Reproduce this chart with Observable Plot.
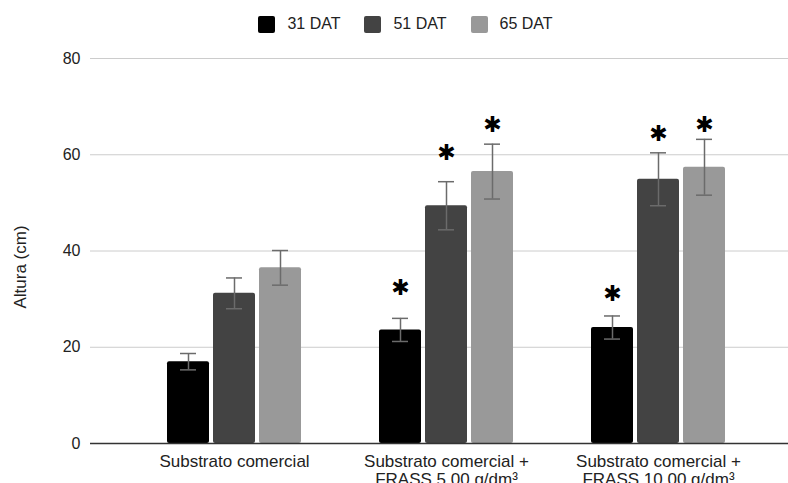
<!DOCTYPE html>
<html>
<head>
<meta charset="utf-8">
<script src="https://cdn.jsdelivr.net/npm/d3@7"></script>
<script src="https://cdn.jsdelivr.net/npm/@observablehq/plot@0.6"></script>
<style>
  html, body { margin: 0; padding: 0; background: #fff; overflow: hidden; }
  body { font-family: 'Liberation Sans', Arial, Helvetica, sans-serif; color: #222; }
  #legend { height: 48px; display: flex; justify-content: center; align-items: center; padding-left: 23px; box-sizing: border-box; width: 788px; font-size: 16px; }
  .item { display: flex; align-items: center; margin: 0 12px; }
  .sw { width: 17px; height: 17px; border-radius: 2px; margin-right: 12px; }
  #chart { position: relative; width: 788px; height: 435px; }
  #chart svg { position: absolute; left: 0; top: 0; }
</style>
</head>
<body>
<div id="legend"></div>
<div id="chart"></div>
<script>
const groups = [
  "Substrato comercial",
  "Substrato comercial +\nFRASS 5.00 g/dm³",
  "Substrato comercial +\nFRASS 10.00 g/dm³"
];
const series = ["31 DAT", "51 DAT", "65 DAT"];
const colors = ["#000000", "#434343", "#999999"];

// mean height (cm) per series, one value per group
const mean31 = [17.0, 23.6, 24.1];
const mean51 = [31.2, 49.4, 54.9];
const mean65 = [36.5, 56.5, 57.4];
// error (± cm)
const err31 = [1.7, 2.4, 2.4];
const err51 = [3.2, 5.0, 5.5];
const err65 = [3.6, 5.7, 5.8];
// asterisk (significance) positions in cm, null = none
const star31 = [null, 32.4, 31.0];
const star51 = [null, 60.3, 64.4];
const star65 = [null, 66.1, 66.1];

const yTicks = [0, 20, 40, 60, 80];

const means = [mean31, mean51, mean65];
const errs = [err31, err51, err65];
const stars = [star31, star51, star65];

const rows = [];
groups.forEach((g, i) => {
  series.forEach((s, j) => {
    rows.push({group: g, series: s, value: means[j][i], err: errs[j][i], star: stars[j][i]});
  });
});

// legend
const legend = document.getElementById("legend");
series.forEach((s, j) => {
  const it = document.createElement("div");
  it.className = "item";
  const sw = document.createElement("span");
  sw.className = "sw";
  sw.style.background = colors[j];
  const lb = document.createElement("span");
  lb.textContent = s;
  it.appendChild(sw);
  it.appendChild(lb);
  legend.appendChild(it);
});

const font = "'Liberation Sans', Arial, Helvetica, sans-serif";
const common = {
  width: 788,
  height: 435,
  marginTop: 10,
  marginBottom: 40,
  marginLeft: 90,
  marginRight: 0,
  y: {domain: [0, 80], axis: null}
};

// background layer: grid, y axis
const back = Plot.plot({
  ...common,
  style: {fontFamily: font, fontSize: "16px", color: "#222", background: "white", overflow: "visible"},
  marks: [
    Plot.ruleY(yTicks.filter(d => d > 0), {stroke: "#cccccc", strokeWidth: 1}),
    Plot.text(yTicks, {y: d => d, text: d => String(d), frameAnchor: "left", dx: -10, textAnchor: "end", fill: "#222"}),
    Plot.text(["Altura (cm)"], {text: d => d, frameAnchor: "left", dx: -70, dy: 16, rotate: -90, textAnchor: "middle", lineAnchor: "middle", fontSize: 17, fill: "#222"})
  ]
});

// front layer: grouped bars, error bars, asterisks, category axis
const front = Plot.plot({
  ...common,
  style: {fontFamily: font, fontSize: "16px", color: "#222", background: "transparent", overflow: "visible"},
  fx: {domain: groups, paddingInner: 0.358, paddingOuter: 0.325, align: 0.551, label: null, axis: null},
  x: {domain: series, paddingInner: 0.085, paddingOuter: 0, axis: null},
  color: {domain: series, range: colors},
  marks: [
    Plot.barY(rows, {fx: "group", x: "series", y: "value", fill: "series", rx: 2}),
    Plot.ruleX(rows, {fx: "group", x: "series", y1: d => d.value - d.err, y2: d => d.value + d.err, stroke: "#6b6b6b", strokeWidth: 1.5}),
    Plot.tickY(rows, {fx: "group", x: "series", y: d => d.value - d.err, stroke: "#6b6b6b", strokeWidth: 1.5, insetLeft: 13, insetRight: 13}),
    Plot.tickY(rows, {fx: "group", x: "series", y: d => d.value + d.err, stroke: "#6b6b6b", strokeWidth: 1.5, insetLeft: 13, insetRight: 13}),
    Plot.text(rows.filter(d => d.star != null), {fx: "group", x: "series", y: "star", text: () => "✱", fontSize: 22, fill: "#000", fontFamily: "DejaVu Sans"}),
    Plot.axisFx({domain: groups, anchor: "bottom", tickSize: 0, tickPadding: 10, label: null, fontSize: 17, lineHeight: 1.1, fill: "#222"})
  ]
});

// baseline layer drawn on top of the bars
const base = Plot.plot({
  ...common,
  style: {background: "transparent", overflow: "visible"},
  marks: [Plot.ruleY([0], {stroke: "#333333", strokeWidth: 1.5})]
});

const c = document.getElementById("chart");
c.appendChild(back);
c.appendChild(front);
c.appendChild(base);
</script>
</body>
</html>
